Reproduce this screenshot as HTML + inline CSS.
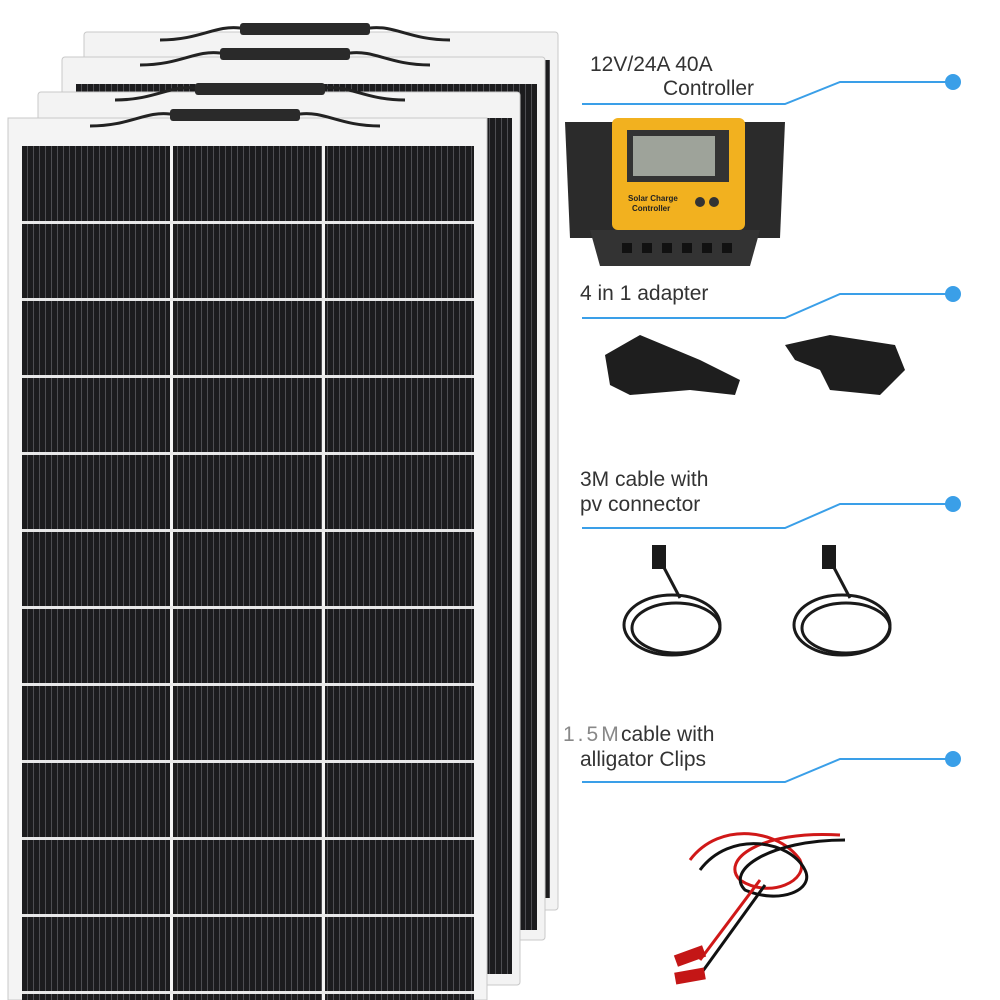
<!DOCTYPE html>
<html><head><meta charset="utf-8"><style>
html,body{margin:0;padding:0;background:#fff;}
svg{display:block}
text{font-family:"Liberation Sans",sans-serif;}
</style></head><body>
<svg width="1000" height="1000" viewBox="0 0 1000 1000" xmlns="http://www.w3.org/2000/svg">
<defs>
<pattern id="cells" x="22" y="0" width="6" height="10" patternUnits="userSpaceOnUse">
<rect width="6" height="10" fill="#1c1c1e"/>
<rect x="5" width="0.8" height="10" fill="#5a5a5e"/>
</pattern>
</defs>
<!-- panel 4 -->
<rect x="84" y="32" width="474" height="878" rx="3" fill="#f3f3f3" stroke="#c8c8c8"/>
<rect x="100" y="60" width="450" height="838" fill="url(#cells)"/>
<path d="M160 40 C200 40 215 25 240 28 L370 28 C395 25 410 40 450 40" stroke="#222" stroke-width="3" fill="none"/>
<rect x="240" y="23" width="130" height="12" rx="3" fill="#2a2a2a"/>
<!-- panel 3 -->
<rect x="62" y="57" width="483" height="883" rx="3" fill="#f3f3f3" stroke="#c8c8c8"/>
<rect x="76" y="84" width="461" height="846" fill="url(#cells)"/>
<path d="M140 65 C180 65 195 50 220 53 L350 53 C375 50 390 65 430 65" stroke="#222" stroke-width="3" fill="none"/>
<rect x="220" y="48" width="130" height="12" rx="3" fill="#2a2a2a"/>
<!-- panel 2 -->
<rect x="38" y="92" width="482" height="893" rx="3" fill="#f3f3f3" stroke="#c8c8c8"/>
<rect x="52" y="118" width="460" height="856" fill="url(#cells)"/>
<path d="M115 100 C155 100 170 85 195 88 L325 88 C350 85 365 100 405 100" stroke="#222" stroke-width="3" fill="none"/>
<rect x="195" y="83" width="130" height="12" rx="3" fill="#2a2a2a"/>
<!-- front panel -->
<rect x="8" y="118" width="479" height="882" fill="#f4f4f4" stroke="#c8c8c8"/>
<path d="M90 126 C130 126 145 111 170 114 L300 114 C325 111 340 126 380 126" stroke="#222" stroke-width="3" fill="none"/>
<rect x="170" y="109" width="130" height="12" rx="3" fill="#2a2a2a"/>
<rect x="22" y="146" width="452" height="854" fill="url(#cells)"/>
<g fill="#f4f4f4">
<rect x="170" y="146" width="3" height="854"/>
<rect x="322" y="146" width="3" height="854"/>
</g>
<g fill="#e8e8e8">
<rect x="22" y="221" width="452" height="3"/>
<rect x="22" y="298" width="452" height="3"/>
<rect x="22" y="375" width="452" height="3"/>
<rect x="22" y="452" width="452" height="3"/>
<rect x="22" y="529" width="452" height="3"/>
<rect x="22" y="606" width="452" height="3"/>
<rect x="22" y="683" width="452" height="3"/>
<rect x="22" y="760" width="452" height="3"/>
<rect x="22" y="837" width="452" height="3"/>
<rect x="22" y="914" width="452" height="3"/>
<rect x="22" y="991" width="452" height="3"/>
</g>
<!-- blue lines -->
<g stroke="#3a9fe8" stroke-width="2" fill="none">
<path d="M582 104 L785 104 L840 82 L953 82"/>
<path d="M582 318 L785 318 L840 294 L953 294"/>
<path d="M582 528 L785 528 L840 504 L953 504"/>
<path d="M582 782 L785 782 L840 759 L953 759"/>
</g>
<g fill="#3a9fe8">
<circle cx="953" cy="82" r="8"/><circle cx="953" cy="294" r="8"/>
<circle cx="953" cy="504" r="8"/><circle cx="953" cy="759" r="8"/>
</g>
<g font-size="21" fill="#333">
<text x="590" y="71">12V/24A 40A</text>
<text x="663" y="95">Controller</text>
<text x="580" y="300">4 in 1 adapter</text>
<text x="580" y="486">3M cable with</text>
<text x="580" y="511">pv connector</text>
<text x="563" y="741" fill="#888" letter-spacing="3">1.5M</text>
<text x="621" y="741">cable with</text>
<text x="580" y="766">alligator Clips</text>
</g>
<!-- controller -->
<path d="M565 122 L785 122 L780 238 L570 238Z" fill="#2b2b2b"/>
<rect x="612" y="118" width="133" height="112" rx="6" fill="#f2b11f"/>
<rect x="627" y="130" width="102" height="52" fill="#333"/>
<rect x="633" y="136" width="82" height="40" fill="#9ea39a"/>
<text x="628" y="201" font-size="8" font-weight="bold" fill="#222">Solar Charge</text>
<text x="632" y="211" font-size="8" font-weight="bold" fill="#222">Controller</text>
<circle cx="700" cy="202" r="5" fill="#333"/><circle cx="714" cy="202" r="5" fill="#333"/>
<path d="M590 230 L760 230 L750 266 L600 266Z" fill="#333"/>
<g fill="#111"><rect x="622" y="243" width="10" height="10"/><rect x="642" y="243" width="10" height="10"/><rect x="662" y="243" width="10" height="10"/><rect x="682" y="243" width="10" height="10"/><rect x="702" y="243" width="10" height="10"/><rect x="722" y="243" width="10" height="10"/></g>
<!-- adapters -->
<g fill="#1e1e1e">
<path d="M605 355 L640 335 L700 360 L740 380 L735 395 L690 390 L630 395 L610 385Z"/>
<path d="M785 345 L830 335 L895 345 L905 370 L880 395 L830 390 L820 370 L795 360Z"/>
</g>
<!-- cables -->
<g stroke="#1a1a1a" stroke-width="3" fill="none">
<ellipse cx="672" cy="625" rx="48" ry="30"/>
<ellipse cx="676" cy="628" rx="44" ry="25"/>
<path d="M660 560 L680 598"/>
<ellipse cx="842" cy="625" rx="48" ry="30"/>
<ellipse cx="846" cy="628" rx="44" ry="25"/>
<path d="M830 560 L850 598"/>
</g>
<g fill="#1a1a1a"><rect x="652" y="545" width="14" height="24"/><rect x="822" y="545" width="14" height="24"/></g>
<!-- alligator -->
<g fill="none" stroke-width="3">
<path d="M690 860 C720 820 780 830 800 860 C810 880 770 900 740 880 C720 860 760 830 840 835" stroke="#d01818"/>
<path d="M700 870 C730 830 790 840 805 870 C815 890 780 905 745 890 C725 870 770 840 845 840" stroke="#111"/>
<path d="M760 880 L700 960" stroke="#d01818"/>
<path d="M765 885 L700 975" stroke="#111"/>
</g>
<g fill="#c41616"><rect x="675" y="950" width="30" height="12" transform="rotate(-20 690 956)"/><rect x="675" y="970" width="30" height="12" transform="rotate(-10 690 976)"/></g>
</svg>
</body></html>
